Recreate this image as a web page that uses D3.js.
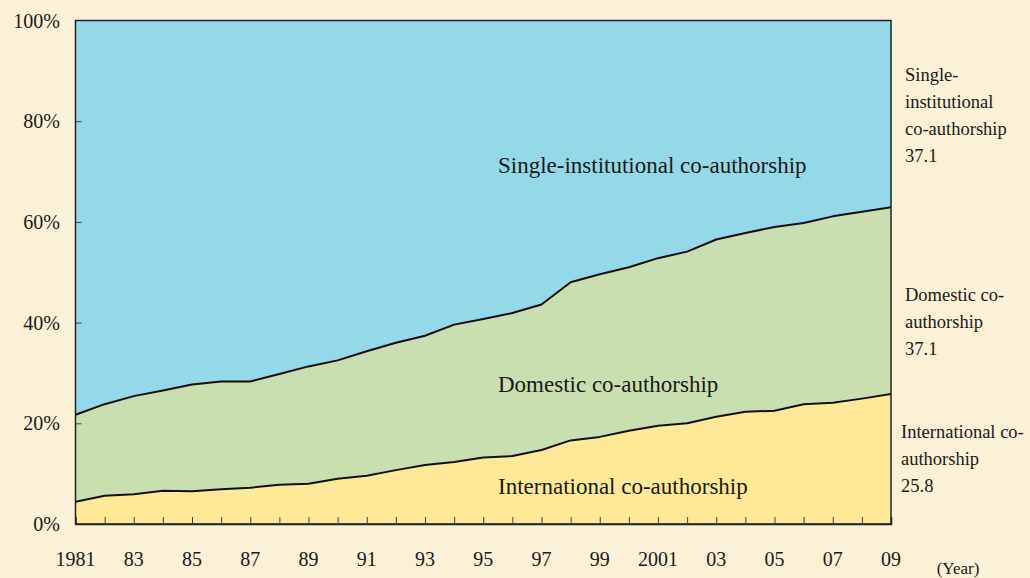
<!DOCTYPE html>
<html>
<head>
<meta charset="utf-8">
<script src="https://cdn.jsdelivr.net/npm/d3@7"></script>
<style>
  html, body { margin: 0; padding: 0; background: #FBF1D6; }
  svg { display: block; }
  text { font-family: "Liberation Serif", "DejaVu Serif", serif; fill: #1a1a1a; }
</style>
</head>
<body>
<svg id="chart" width="1030" height="578"></svg>
<script>
const years = d3.range(1981, 2010);
const international = [4.4, 5.6, 5.9, 6.6, 6.5, 6.9, 7.2, 7.8, 8.0, 9.0, 9.6, 10.7, 11.7, 12.3, 13.2, 13.5, 14.7, 16.6, 17.3, 18.5, 19.5, 20.0, 21.3, 22.3, 22.5, 23.8, 24.1, 24.9, 25.8];
const domestic = [17.3, 18.2, 19.5, 19.9, 21.2, 21.4, 21.1, 22.0, 23.3, 23.5, 24.7, 25.3, 25.7, 27.3, 27.5, 28.4, 28.9, 31.4, 32.3, 32.5, 33.3, 34.1, 35.2, 35.5, 36.5, 36.0, 37.0, 37.1, 37.1];
const single = [78.3, 76.2, 74.6, 73.5, 72.3, 71.7, 71.7, 70.2, 68.7, 67.5, 65.7, 64.0, 62.6, 60.4, 59.3, 58.1, 56.4, 52.0, 50.4, 49.0, 47.2, 45.9, 43.5, 42.2, 41.0, 40.2, 38.9, 38.0, 37.1];
const seriesNames = ["International co-authorship", "Domestic co-authorship", "Single-institutional co-authorship"];
const xTickYears = [1981, 1983, 1985, 1987, 1989, 1991, 1993, 1995, 1997, 1999, 2001, 2003, 2005, 2007, 2009];
const xTickLabels = ["1981", "83", "85", "87", "89", "91", "93", "95", "97", "99", "2001", "03", "05", "07", "09"];
const yTicks = [0, 20, 40, 60, 80, 100];
const endLabels = [
  { lines: ["International co-", "authorship", "25.8"], x: 901, y: 438 },
  { lines: ["Domestic co-", "authorship", "37.1"], x: 905, y: 301 },
  { lines: ["Single-", "institutional", "co-authorship", "37.1"], x: 905, y: 81 }
];
const inLabels = [
  { text: seriesNames[0], x: 498, y: 494 },
  { text: seriesNames[1], x: 498, y: 392 },
  { text: seriesNames[2], x: 498, y: 173 }
];
const colors = ["#FFE896", "#C9DFAF", "#93D9E8"];

const svg = d3.select("#chart");
const L = 75.5, R = 891, T = 20.5, B = 524;

const x = d3.scaleLinear().domain([1981, 2009]).range([L, R]);
const y = d3.scaleLinear().domain([0, 100]).range([B, T]);

const table = years.map((yr, i) => ({ year: yr, i: international[i], d: domestic[i], s: single[i] }));
const stack = d3.stack().keys(["i", "d", "s"]);
const layers = stack(table);

const area = d3.area()
  .x(d => x(d.data.year))
  .y0(d => y(d[0]))
  .y1(d => y(d[1]));

svg.append("g").selectAll("path")
  .data(layers)
  .join("path")
  .attr("d", area)
  .attr("fill", (d, k) => colors[k]);

const line = d3.line().x(d => x(d.data.year)).y(d => y(d[1]));
svg.append("g").selectAll("path")
  .data(layers.slice(0, 2))
  .join("path")
  .attr("d", line)
  .attr("fill", "none")
  .attr("stroke", "#111")
  .attr("stroke-width", 2)
  .attr("stroke-linejoin", "round");

// frame
svg.append("rect")
  .attr("x", L).attr("y", T)
  .attr("width", R - L).attr("height", B - T)
  .attr("fill", "none").attr("stroke", "#222").attr("stroke-width", 1.5);

// x ticks (inward)
const xAxis = d3.axisBottom(x).tickValues(years.slice(1, -1)).tickSize(-7).tickFormat("");
const gx = svg.append("g").attr("transform", `translate(0,${B})`).call(xAxis);
gx.select(".domain").attr("stroke", "#222").attr("stroke-width", 1.5);
gx.selectAll(".tick line").attr("stroke", "#444").attr("stroke-width", 1);

// y ticks (inward)
const yAxis = d3.axisLeft(y).tickValues(yTicks.slice(1, -1)).tickSize(-6).tickFormat("");
const gy = svg.append("g").attr("transform", `translate(${L},0)`).call(yAxis);
gy.select(".domain").remove();
gy.selectAll(".tick line").attr("stroke", "#444").attr("stroke-width", 1);

// y labels
svg.append("g").selectAll("text")
  .data(yTicks)
  .join("text")
  .attr("x", 60)
  .attr("y", d => y(d) + 7)
  .attr("text-anchor", "end")
  .attr("font-size", 20)
  .text(d => d + "%");

// x labels
svg.append("g").selectAll("text")
  .data(xTickYears)
  .join("text")
  .attr("x", d => x(d))
  .attr("y", 566)
  .attr("text-anchor", "middle")
  .attr("font-size", 20)
  .text((d, i) => xTickLabels[i]);

svg.append("text")
  .attr("x", 958).attr("y", 574)
  .attr("text-anchor", "middle")
  .attr("font-size", 17)
  .text("(Year)");

// inner labels
svg.append("g").selectAll("text")
  .data(inLabels)
  .join("text")
  .attr("x", d => d.x)
  .attr("y", d => d.y)
  .attr("font-size", 23)
  .text(d => d.text);

// end labels
const eg = svg.append("g").selectAll("text")
  .data(endLabels)
  .join("text")
  .attr("font-size", 18.5);
eg.selectAll("tspan")
  .data(d => d.lines.map((t, k) => ({ t, k, x: d.x, y: d.y })))
  .join("tspan")
  .attr("x", d => d.x)
  .attr("y", d => d.y + d.k * 27)
  .text(d => d.t);
</script>
</body>
</html>
